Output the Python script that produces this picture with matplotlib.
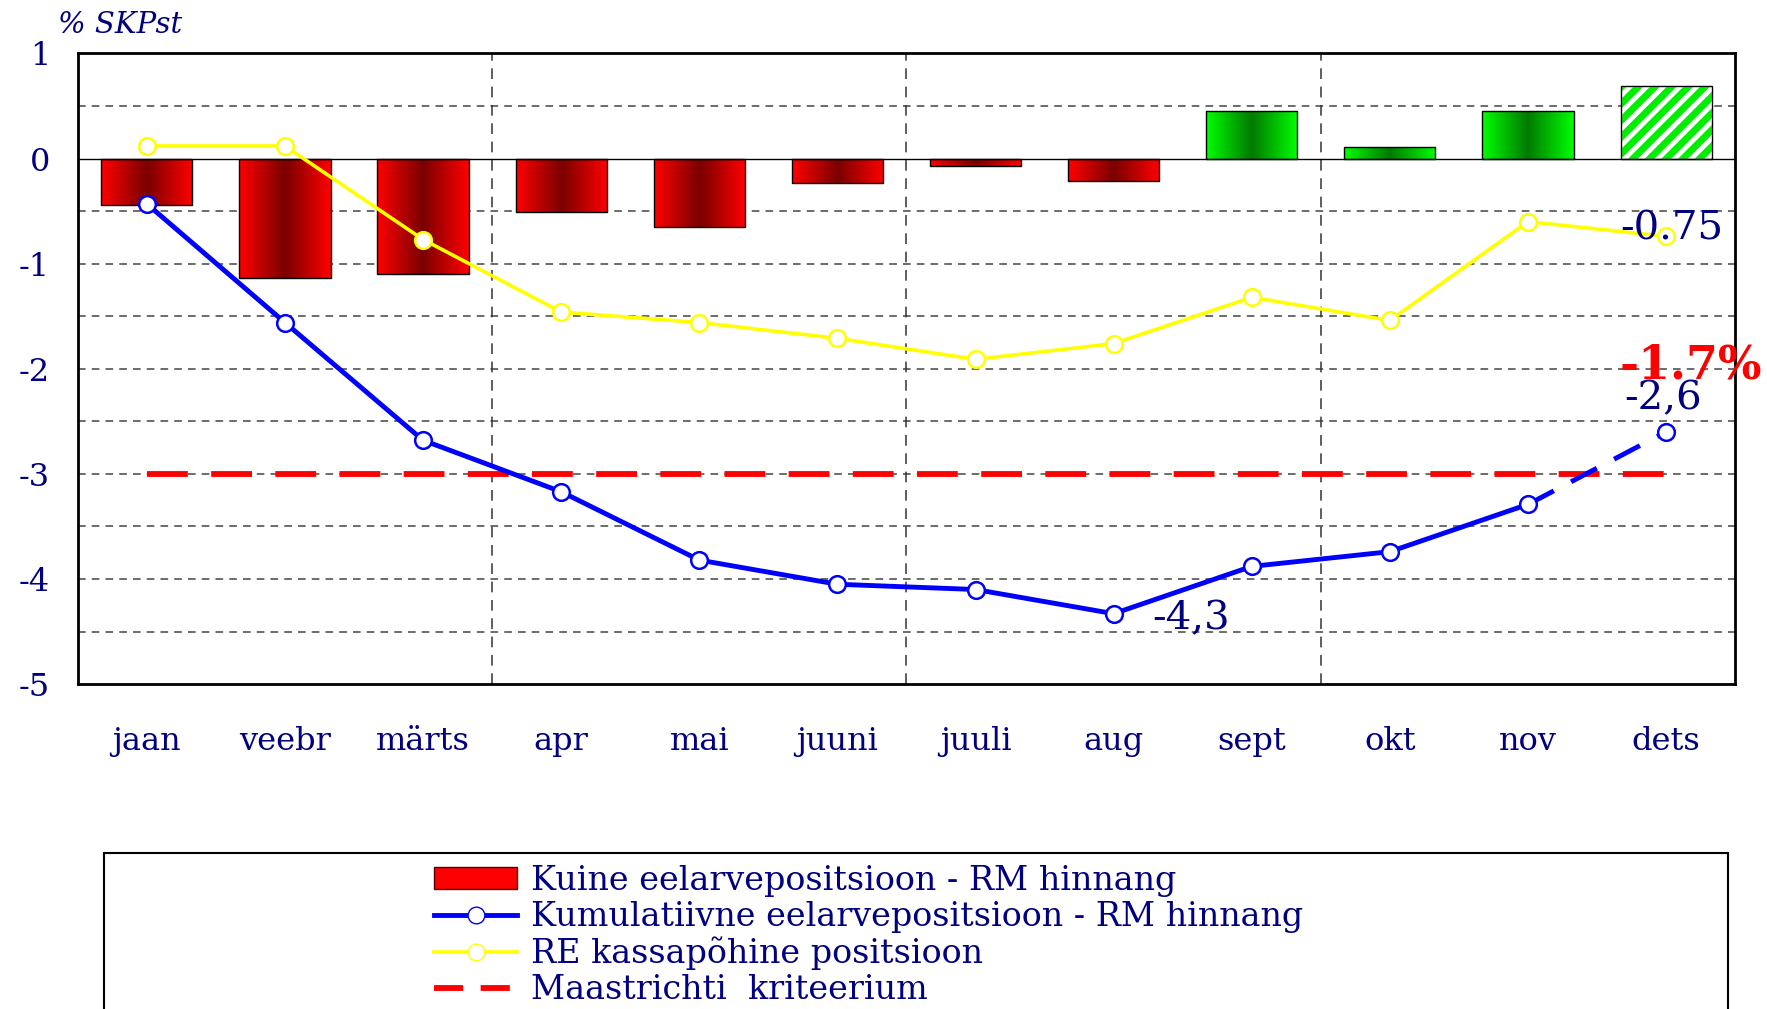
import matplotlib.pyplot as plt
import numpy as np
from matplotlib.colors import LinearSegmentedColormap
from matplotlib.lines import Line2D
from matplotlib.patches import Patch, Rectangle

months = ["jaan", "veebr", "märts", "apr", "mai", "juuni", "juuli", "aug", "sept", "okt", "nov", "dets"]
monthly = [-0.44, -1.14, -1.10, -0.51, -0.65, -0.23, -0.075, -0.21, 0.45, 0.11, 0.45, 0.69]
cumulative = [-0.43, -1.56, -2.68, -3.17, -3.82, -4.05, -4.10, -4.33, -3.88, -3.74, -3.29, -2.60]
re_cash = [0.12, 0.12, -0.77, -1.46, -1.56, -1.71, -1.91, -1.76, -1.32, -1.54, -0.60, -0.74]
maastricht = -3.0

navy = "#000080"
plt.rcParams['font.family'] = ['DejaVu Serif', 'Liberation Serif']
plt.rcParams['hatch.linewidth'] = 3.5

fig = plt.figure(figsize=(17.67, 10.09), dpi=100)
ax = fig.add_axes([0.044, 0.322, 0.938, 0.625])

x = np.arange(len(months))
bars = ax.bar(x, monthly, width=0.66, color='none', edgecolor='black', linewidth=1, zorder=3)

red_cm = LinearSegmentedColormap.from_list("rg", ["#ff0000", "#7a0000", "#ff0000"])
green_cm = LinearSegmentedColormap.from_list("gg", ["#00ff00", "#007a00", "#00ff00"])
grad = np.linspace(0, 1, 256).reshape(1, -1)
for i, b in enumerate(bars):
    x0, y0 = b.get_x(), b.get_y()
    w, h = b.get_width(), b.get_height()
    if i == len(bars) - 1:
        # last month is a forecast: hatched green
        b.set_facecolor("#00ee00")
        b.set_hatch("//")
        b.set_edgecolor("white")
        continue
    cm = green_cm if monthly[i] > 0 else red_cm
    im = ax.imshow(grad, cmap=cm, aspect='auto', extent=(x0, x0 + w, y0, y0 + h), zorder=2)
    im.set_clip_path(b)
ax.add_patch(Rectangle((bars[-1].get_x(), 0), bars[-1].get_width(), monthly[-1],
                       facecolor='none', edgecolor='black', linewidth=1, zorder=4))

# grid
for yy in np.arange(-4.5, 1.0, 0.5):
    if abs(yy) < 1e-9:
        continue
    ax.axhline(yy, color='#444444', linestyle=(0, (5, 4)), linewidth=1.1, zorder=1)
for xx in [2.5, 5.5, 8.5]:
    ax.axvline(xx, color='#333333', linestyle=(0, (7, 5)), linewidth=1.1, zorder=1)
ax.axhline(0, color='black', linewidth=1, zorder=4)

ax.plot([x[0], x[-1]], [maastricht, maastricht], color='red', linewidth=4.2,
        linestyle=(0, (7, 4)), zorder=5)

ax.plot(x, re_cash, color='#ffff00', linewidth=2.6, marker='o', markersize=12,
        markerfacecolor='white', markeredgecolor='#ffff00', markeredgewidth=1.8, zorder=6)

ax.plot(x[:-1], cumulative[:-1], color='#0000ff', linewidth=3.5, zorder=7)
ax.plot(x[-2:], cumulative[-2:], color='#0000ff', linewidth=3.5, linestyle=(0, (6, 4)), zorder=7)
ax.plot(x, cumulative, linestyle='none', marker='o', markersize=12,
        markerfacecolor='white', markeredgecolor='#0000ff', markeredgewidth=1.8, zorder=8)

ax.set_xlim(-0.5, 11.5)
ax.set_ylim(-5, 1)
ax.set_yticks(range(-5, 2))
ax.set_yticklabels([str(v) for v in range(-5, 2)])
ax.set_xticks(x)
ax.set_xticklabels(months)
ax.tick_params(axis='y', length=0, pad=20, labelsize=23, labelcolor=navy)
ax.tick_params(axis='x', length=0, pad=30, labelsize=23, labelcolor=navy)
for s in ax.spines.values():
    s.set_linewidth(2)

# annotations
ax.text(-0.64, 1.14, "% SKPst", color=navy, fontsize=21, style='italic',
        ha='left', va='bottom', clip_on=False)
ax.text(11.04, -0.67, "-0.75", color=navy, fontsize=29, ha='center', va='center', zorder=9)
ax.text(10.98, -2.29, "-2,6", color=navy, fontsize=29, ha='center', va='center', zorder=9)
ax.text(11.18, -1.97, "-1.7%", color='red', fontsize=33, fontweight='bold', ha='center',
        va='center', clip_on=False, zorder=10)
ax.text(7.56, -4.38, "-4,3", color=navy, fontsize=29, ha='center', va='center', zorder=9)

# legend box
fig.patches.append(Rectangle((0.059, -0.02), 0.919, 0.175, transform=fig.transFigure,
                             facecolor='none', edgecolor='black', linewidth=1.5))
handles = [
    Patch(facecolor='red', edgecolor='#550000'),
    Line2D([], [], color='#0000ff', linewidth=3.5, marker='o', markersize=12,
           markerfacecolor='white', markeredgecolor='#0000ff'),
    Line2D([], [], color='#ffff00', linewidth=2.6, marker='o', markersize=12,
           markerfacecolor='white', markeredgecolor='#ffff00'),
    Line2D([], [], color='red', linewidth=4.2, linestyle=(0, (5, 3))),
]
labels = ["Kuine eelarvepositsioon - RM hinnang",
          "Kumulatiivne eelarvepositsioon - RM hinnang",
          "RE kassapõhine positsioon",
          "Maastrichti  kriteerium"]
fig.legend(handles, labels, loc='upper left', bbox_to_anchor=(0.2456, 0.143), frameon=False,
           fontsize=24, labelcolor=navy, handlelength=2.5, handleheight=0.6,
           labelspacing=0.12, handletextpad=0.4, borderaxespad=0, borderpad=0)

fig.savefig("out.png", dpi=100)
